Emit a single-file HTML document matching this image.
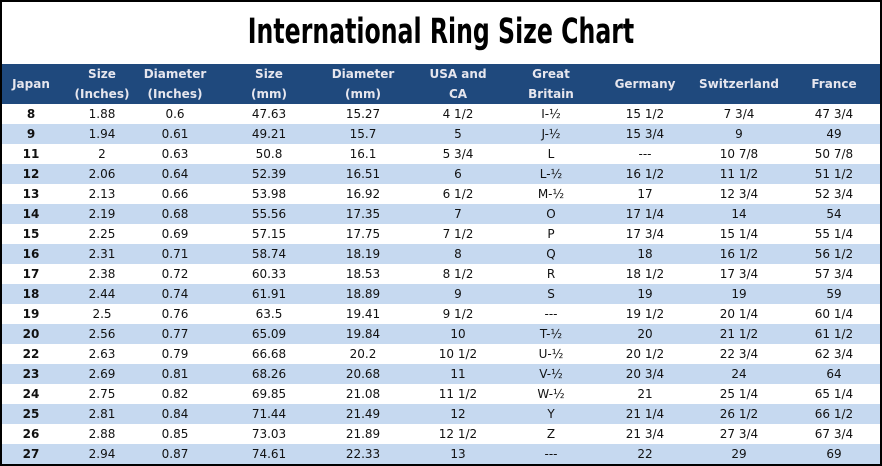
<!DOCTYPE html>
<html><head><meta charset="utf-8"><style>
html,body{margin:0;padding:0;width:882px;height:466px;overflow:hidden;background:#fff}
#f{position:absolute;left:0;top:0;width:878px;height:462px;border:2px solid #000;background:#fff}
#t{position:absolute;left:0;top:12px;width:882px;text-align:center;font-family:"DejaVu Sans","Liberation Sans",sans-serif;font-weight:bold;font-size:35px;color:#000;transform:scaleX(0.675);transform-origin:441px 0}
#hd{position:absolute;left:2px;top:64px;width:878px;height:40px;background:#1f497d}
.c{position:absolute;width:110px;text-align:center;font-family:"DejaVu Sans",Verdana,sans-serif;font-size:12px;color:#111}
.h{color:#e6e6ee;font-weight:bold;line-height:20px}
.r{position:absolute;left:2px;width:878px;height:20px}
</style></head><body>
<div id="f"></div>
<div id="t">International Ring Size Chart</div>
<div id="hd"></div>
<div id="x"></div>
<script>
var cx=[31,102,175,269,363,458,551,645,739,834];
var hs=[["Japan"],["Size","(Inches)"],["Diameter","(Inches)"],["Size","(mm)"],["Diameter","(mm)"],["USA and","CA"],["Great","Britain"],["Germany"],["Switzerland"],["France"]];
var d=[
["8","1.88","0.6","47.63","15.27","4 1/2","I-½","15 1/2","7 3/4","47 3/4"],
["9","1.94","0.61","49.21","15.7","5","J-½","15 3/4","9","49"],
["11","2","0.63","50.8","16.1","5 3/4","L","---","10 7/8","50 7/8"],
["12","2.06","0.64","52.39","16.51","6","L-½","16 1/2","11 1/2","51 1/2"],
["13","2.13","0.66","53.98","16.92","6 1/2","M-½","17","12 3/4","52 3/4"],
["14","2.19","0.68","55.56","17.35","7","O","17 1/4","14","54"],
["15","2.25","0.69","57.15","17.75","7 1/2","P","17 3/4","15 1/4","55 1/4"],
["16","2.31","0.71","58.74","18.19","8","Q","18","16 1/2","56 1/2"],
["17","2.38","0.72","60.33","18.53","8 1/2","R","18 1/2","17 3/4","57 3/4"],
["18","2.44","0.74","61.91","18.89","9","S","19","19","59"],
["19","2.5","0.76","63.5","19.41","9 1/2","---","19 1/2","20 1/4","60 1/4"],
["20","2.56","0.77","65.09","19.84","10","T-½","20","21 1/2","61 1/2"],
["22","2.63","0.79","66.68","20.2","10 1/2","U-½","20 1/2","22 3/4","62 3/4"],
["23","2.69","0.81","68.26","20.68","11","V-½","20 3/4","24","64"],
["24","2.75","0.82","69.85","21.08","11 1/2","W-½","21","25 1/4","65 1/4"],
["25","2.81","0.84","71.44","21.49","12","Y","21 1/4","26 1/2","66 1/2"],
["26","2.88","0.85","73.03","21.89","12 1/2","Z","21 3/4","27 3/4","67 3/4"],
["27","2.94","0.87","74.61","22.33","13","---","22","29","69"]];
var h="";
hs.forEach(function(a,i){var top=a.length==1?74:64;h+='<div class="c h" style="left:'+(cx[i]-55)+'px;top:'+top+'px">'+a.join("<br>")+'</div>';});
d.forEach(function(r,j){var y=104+j*20;h+='<div class="r" style="top:'+y+'px;background:'+(j%2?'#c6d9f0':'#fff')+'"></div>';
r.forEach(function(v,i){h+='<div class="c" style="left:'+(cx[i]-55)+'px;top:'+(y+3)+'px;'+(i==0?'font-weight:bold;':'')+'">'+v+'</div>';});});
document.getElementById("x").innerHTML=h;
</script>
</body></html>
